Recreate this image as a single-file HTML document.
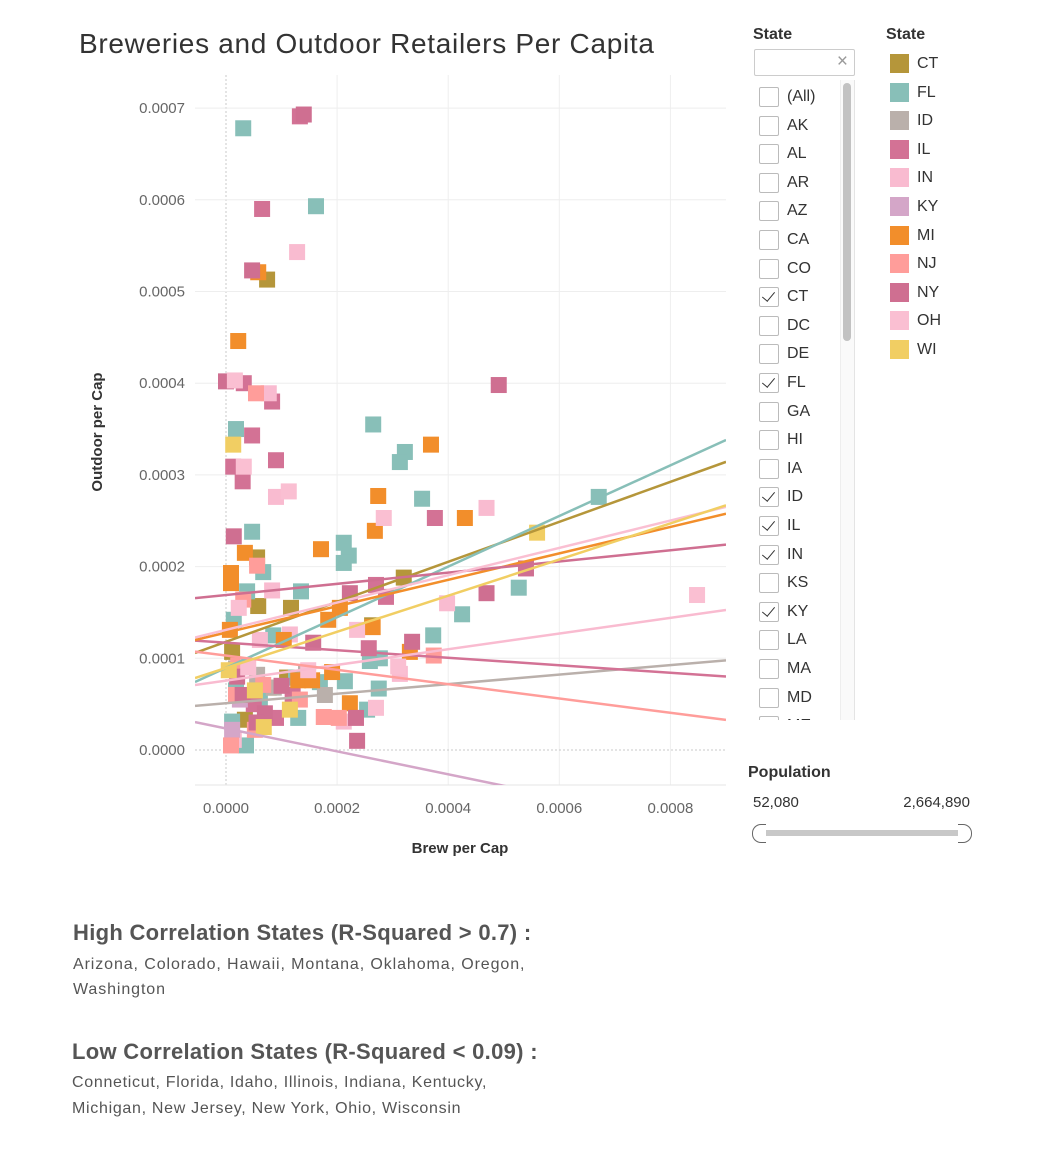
<!DOCTYPE html>
<html><head><meta charset="utf-8"><style>
body{margin:0;width:1041px;height:1164px;background:#fff;font-family:"Liberation Sans",sans-serif;position:relative;overflow:hidden;color:#333}
.abs{position:absolute}
.item{position:absolute;left:759px;font-size:16px;color:#333}
.cb{position:absolute;left:0;top:0;width:18px;height:18px;border:1px solid #bbb;border-radius:2px;background:#fff}
.cb.on::after{content:"";position:absolute;left:5px;top:1px;width:6px;height:11px;border:solid #333;border-width:0 1.5px 1.5px 0;transform:rotate(40deg)}
.lbl{position:absolute;left:28px;top:0;line-height:20px}
.sw{position:absolute;left:890px;width:19px;height:19px}
.lg{position:absolute;left:917px;font-size:16px;line-height:19px;color:#333}
</style></head><body>
<div class="abs" style="left:79px;top:28px;font-size:28px;letter-spacing:0.7px;color:#333">Breweries and Outdoor Retailers Per Capita</div>
<svg id="chart" class="abs" style="left:0;top:0" width="740" height="870"></svg>

<div class="abs" style="left:753px;top:26px;font-size:16px;font-weight:bold;color:#333">State</div>
<div class="abs" style="left:754px;top:49px;width:99px;height:25px;border:1px solid #ccc;border-radius:2px"><span style="position:absolute;right:6px;top:1px;color:#999;font-size:19px">×</span></div>
<div class="abs" style="left:740px;top:80px;width:114px;height:640px;overflow:hidden" id="flist"></div>
<div class="abs" style="left:840px;top:80px;width:13px;height:640px;border-left:1px solid #eee;border-right:1px solid #e4e4e4;background:#fafafa"></div>
<div class="abs" style="left:843px;top:83px;width:8px;height:258px;border-radius:4px;background:#c2c2c2"></div>

<div class="abs" style="left:886px;top:26px;font-size:16px;font-weight:bold;color:#333">State</div>
<div id="legend"></div>

<div class="abs" style="left:748px;top:764px;font-size:16px;font-weight:bold;color:#333">Population</div>
<div class="abs" style="left:753px;top:794px;font-size:15px;color:#333">52,080</div>
<div class="abs" style="left:870px;width:100px;text-align:right;top:794px;font-size:15px;color:#333">2,664,890</div>
<div class="abs" style="left:764px;top:830px;width:196px;height:6px;background:#c8c8c8"></div>
<div class="abs" style="left:752px;top:824px;width:13px;height:17px;border:1px solid #666;border-right:none;border-radius:9px 0 0 9px;background:#fff"></div>
<div class="abs" style="left:958px;top:824px;width:13px;height:17px;border:1px solid #666;border-left:none;border-radius:0 9px 9px 0;background:#fff"></div>

<div class="abs" style="left:73px;top:920px;font-size:22px;color:#555;font-weight:bold;letter-spacing:0.3px">High Correlation States (R-Squared &gt; 0.7) :</div>
<div class="abs" style="left:73px;top:952px;font-size:16px;letter-spacing:0.9px;color:#555;line-height:25px">Arizona, Colorado, Hawaii, Montana, Oklahoma, Oregon,<br>Washington</div>
<div class="abs" style="left:72px;top:1039px;font-size:22px;color:#555;font-weight:bold;letter-spacing:0.3px">Low Correlation States (R-Squared &lt; 0.09) :</div>
<div class="abs" style="left:72px;top:1070px;font-size:16px;letter-spacing:0.7px;color:#555;line-height:26px">Conneticut, Florida, Idaho, Illinois, Indiana, Kentucky,<br>Michigan, New Jersey, New York, Ohio, Wisconsin</div>

<script>
// ---- data ----
const states = ["CT","FL","ID","IL","IN","KY","MI","NJ","NY","OH","WI"];
const stateColors = ["#b5963a","#88bfb8","#bab0ab","#d37295","#f9bbd0","#d4a6c8","#f28e2b","#ff9d9a","#cf6f91","#fabfd2","#f1ce63"];
const xTicks = [0,0.0002,0.0004,0.0006,0.0008];
const xTickLabels = ["0.0000","0.0002","0.0004","0.0006","0.0008"];
const yTicks = [0,0.0001,0.0002,0.0003,0.0004,0.0005,0.0006,0.0007];
const yTickLabels = ["0.0000","0.0001","0.0002","0.0003","0.0004","0.0005","0.0006","0.0007"];
// trend lines: intercept, slope per state
const trendIntercept = [0.000118,0.0000896,0.000051,0.000117,0.0000757,0.0000235,0.000128,0.000103,0.000169,0.000131,0.0000895];
const trendSlope = [0.218,0.276,0.052,-0.041,0.0855,-0.125,0.144,-0.078,0.061,0.149,0.197];
// points (brew per cap, outdoor per cap), values x1e-4
const ctBrew=[.74,.56,.58,1.17,3.2,2.63,.11,.77,1.1,.34];
const ctOut=[5.13,2.1,1.57,1.55,1.88,1.36,1.07,.68,.79,.33];
const flBrew=[.31,1.62,.18,2.65,3.22,3.13,3.53,6.71,.47,2.12,2.21,2.12,.67,.38,1.35,5.27,4.25,3.73,.85,2.77,2.59,2.75,2.14,2.54,.14,1.26,1.3,.36,.18,.61,.11,1.69];
const flOut=[6.78,5.93,3.5,3.55,3.25,3.14,2.74,2.76,2.38,2.26,2.12,2.04,1.94,1.73,1.73,1.77,1.48,1.25,1.25,1.0,.97,.67,.75,.44,1.42,.79,.35,.05,.65,.55,.31,.74];
const idBrew=[.86,.18,1.78,.56,1.44];
const idOut=[.68,.89,.6,.82,.85];
const ilBrew=[1.33,.65,.32,.83,.47,.9,.13,.3,3.76,2.7,2.88,2.57,.5,.9,1.2];
const ilOut=[6.91,5.9,4.0,3.8,3.43,3.16,3.09,2.93,2.53,1.8,1.67,1.11,.5,.35,.6];
const inBrew=[1.28,.77,.9,4.69,3.98,3.13,2.12,.83,1.15,.61,.14];
const inOut=[5.43,3.89,2.76,2.64,1.6,.83,.31,1.74,1.26,1.2,.11];
const kyBrew=[.11,.25];
const kyOut=[.22,.55];
const miBrew=[.58,.22,3.69,2.74,4.3,2.68,1.71,.34,.09,.09,2.05,2.64,1.84,3.31,1.3,1.55,1.91,2.23,1.04,.07];
const miOut=[5.21,4.46,3.33,2.77,2.53,2.39,2.19,2.15,1.93,1.82,1.55,1.34,1.42,1.07,.76,.76,.85,.51,1.2,1.31];
const njBrew=[.54,.31,.56,3.74,1.76,2.03,.67,.22,.18,1.33,.09,.52];
const njOut=[3.89,1.64,2.01,1.03,.36,.35,.71,.92,.6,.55,.05,.22];
const nyBrew=[1.4,.47,0,4.91,.14,5.4,4.69,2.23,3.35,2.36,2.34,1.57,.7,1.0,.3,.55,.2];
const nyOut=[6.93,5.23,4.02,3.98,2.33,1.98,1.71,1.71,1.18,.1,.35,1.17,.4,.7,.6,.3,.8];
const ohBrew=[.16,1.13,2.84,8.48,3.1,2.7,2.36,.23,1.48,.32,.4];
const ohOut=[4.03,2.82,2.53,1.69,.91,.46,1.31,1.55,.87,3.09,.9];
const wiBrew=[.13,5.6,.68,1.15,.52,.05];
const wiOut=[3.33,2.37,.25,.44,.65,.87];
const brewByState=[ctBrew,flBrew,idBrew,ilBrew,inBrew,kyBrew,miBrew,njBrew,nyBrew,ohBrew,wiBrew];
const outByState=[ctOut,flOut,idOut,ilOut,inOut,kyOut,miOut,njOut,nyOut,ohOut,wiOut];
const filterStates=["(All)","AK","AL","AR","AZ","CA","CO","CT","DC","DE","FL","GA","HI","IA","ID","IL","IN","KS","KY","LA","MA","MD","ME"];
const filterChecked=["CT","FL","ID","IL","IN","KY"];

// ---- scales ----
const X0=226, XPX=555500, Y0=750, YPX=917000;
const PL=195, PR=726, PT=75, PB=785;
const sx=v=>X0+v*XPX, sy=v=>Y0-v*YPX;
const NS="http://www.w3.org/2000/svg";
const svg=document.getElementById('chart');
function mk(t,a){const e=document.createElementNS(NS,t);for(const k in a)e.setAttribute(k,a[k]);return e;}
const defs=mk('defs',{});const cp=mk('clipPath',{id:'pc'});cp.appendChild(mk('rect',{x:PL,y:PT,width:PR-PL,height:PB-PT}));defs.appendChild(cp);svg.appendChild(defs);
xTicks.forEach((t,i)=>{
  const g=mk('line',{x1:sx(t),x2:sx(t),y1:PT,y2:PB,stroke:t===0?'#c8c8c8':'#eeeeee','stroke-width':1,'stroke-dasharray':t===0?'2,2':'none'});
  svg.appendChild(g);
  const tx=mk('text',{x:sx(t),y:813,'text-anchor':'middle','font-size':15,fill:'#666'});tx.textContent=xTickLabels[i];
  svg.appendChild(tx);
});
yTicks.forEach((t,i)=>{
  const g=mk('line',{x1:PL,x2:PR,y1:sy(t),y2:sy(t),stroke:t===0?'#c8c8c8':'#eeeeee','stroke-width':1,'stroke-dasharray':t===0?'2,2':'none'});
  svg.appendChild(g);
  const tx=mk('text',{x:185,y:sy(t)+5,'text-anchor':'end','font-size':15,fill:'#666'});tx.textContent=yTickLabels[i];
  svg.appendChild(tx);
});
const xa=mk('line',{x1:PL,x2:PR,y1:PB,y2:PB,stroke:'#e6e6e6'});svg.appendChild(xa);
const xt=mk('text',{x:460,y:853,'text-anchor':'middle','font-size':15,'font-weight':'bold',fill:'#333'});xt.textContent='Brew per Cap';
svg.appendChild(xt);
const yt=mk('text',{x:0,y:0,'text-anchor':'middle','font-size':15,'font-weight':'bold',fill:'#333',transform:'translate(102,432) rotate(-90)'});yt.textContent='Outdoor per Cap';
svg.appendChild(yt);
const pts=mk('g',{'clip-path':'url(#pc)'});svg.appendChild(pts);
states.forEach((s,si)=>{
  const bx=brewByState[si], oy=outByState[si];
  bx.forEach((b,j)=>{
    const r=mk('rect',{x:sx(b*1e-4)-8,y:sy(oy[j]*1e-4)-8,width:16,height:16,fill:stateColors[si]});
    
    
    pts.appendChild(r);
  });
});
const lines=mk('g',{'clip-path':'url(#pc)'});svg.appendChild(lines);
states.forEach((s,si)=>{
  const xa=(PL-X0)/XPX, xb=(PR-X0)/XPX;
  const l=mk('line',{x1:PL,x2:PR,y1:sy(trendIntercept[si]+trendSlope[si]*xa),y2:sy(trendIntercept[si]+trendSlope[si]*xb),stroke:stateColors[si],'stroke-width':2.5});
  
  
  lines.appendChild(l);
});
// filter list
const fl=document.getElementById('flist');
filterStates.forEach((s,i)=>{
  const d=document.createElement('div');d.className='item';d.style.top=(7+i*28.6)+'px';
  
  
  d.innerHTML='<div class="cb'+(filterChecked.includes(s)?' on':'')+'"></div><div class="lbl">'+s+'</div>';
  d.style.left='19px';fl.appendChild(d);
});
// legend
const lg=document.getElementById('legend');
states.forEach((s,i)=>{
  const sw=document.createElement('div');sw.className='sw';sw.style.top=(54+i*28.6)+'px';sw.style.background=stateColors[i];
  
  
  lg.appendChild(sw);
  const t=document.createElement('div');t.className='lg';t.style.top=(54+i*28.6)+'px';t.textContent=s;
  
  
  lg.appendChild(t);
});
</script>
</body></html>
